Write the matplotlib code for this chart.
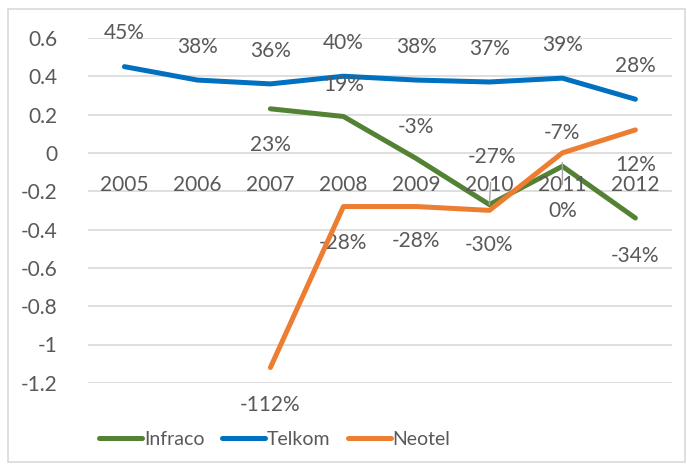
import matplotlib.pyplot as plt
from matplotlib.patches import Rectangle
import numpy as np

years = ['2005', '2006', '2007', '2008', '2009', '2010', '2011', '2012']
telkom = [0.45, 0.38, 0.36, 0.40, 0.38, 0.37, 0.39, 0.28]
infraco = [None, None, 0.23, 0.19, -0.03, -0.27, -0.07, -0.34]
neotel = [None, None, -1.12, -0.28, -0.28, -0.30, 0.00, 0.12]

# label offsets in points (dy), per series; None = no point
infraco_off = [None, None, -26, 23, 23, 34, 24, -27]
neotel_off = [None, None, -27, -26, -25, -25, -42, -25]
telkom_off = 24

COLORS = {'Infraco': '#548235', 'Telkom': '#0070C0', 'Neotel': '#ED7D31'}
TXT = '#595959'
FS = 15

plt.rcParams['font.family'] = ['Lato', 'DejaVu Sans']

fig = plt.figure(figsize=(6.87, 4.68), dpi=100)
ax = fig.add_axes([0.128, 0.182, 0.850, 0.737])


def series(vals):
    xs = [i for i, v in enumerate(vals) if v is not None]
    ys = [v for v in vals if v is not None]
    return np.array(xs), np.array(ys)


xi, yi = series(infraco)
xt, yt = series(telkom)
xn, yn = series(neotel)

ax.plot(xi, yi, color=COLORS['Infraco'], lw=3.6, label='Infraco', solid_capstyle='round', zorder=3)
ax.plot(xt, yt, color=COLORS['Telkom'], lw=3.6, label='Telkom', solid_capstyle='round', zorder=3)
ax.plot(xn, yn, color=COLORS['Neotel'], lw=3.6, label='Neotel', solid_capstyle='round', zorder=4)

ax.set_xlim(-0.5, 7.5)
ax.set_ylim(-1.2, 0.6)
ax.set_yticks(np.arange(-1.2, 0.61, 0.2))
ax.set_yticklabels(['-1.2', '-1', '-0.8', '-0.6', '-0.4', '-0.2', '0', '0.2', '0.4', '0.6'])
ax.tick_params(axis='y', length=0, pad=22, labelsize=FS, labelcolor=TXT)
ax.set_xticks([])
ax.grid(axis='y', color='#d9d9d9', lw=1.2)
ax.set_axisbelow(True)
for s in ax.spines.values():
    s.set_visible(False)

# category labels sit just under the zero line
for i, yr in enumerate(years):
    ax.annotate(yr, (i, 0), xytext=(0, -23), textcoords='offset points',
                ha='center', va='center', fontsize=FS, color=TXT)


def pct(v):
    return f'{round(v * 100):d}%'


for i, v in zip(xt, yt):
    ax.annotate(pct(v), (i, v), xytext=(0, telkom_off), textcoords='offset points',
                ha='center', va='center', fontsize=FS, color=TXT)

for i, v in zip(xi, yi):
    kw = {}
    if i == 5:
        kw['arrowprops'] = dict(arrowstyle='-', color='#a6a6a6', lw=1, shrinkA=9, shrinkB=0)
    ax.annotate(pct(v), (i, v), xytext=(2 if i == 5 else 0, infraco_off[i]), textcoords='offset points',
                ha='center', va='center', fontsize=FS, color=TXT, **kw)

for i, v in zip(xn, yn):
    kw = {}
    if i == 6:
        kw['arrowprops'] = dict(arrowstyle='-', color='#a6a6a6', lw=1, shrinkA=10, shrinkB=7)
    ax.annotate(pct(v), (i, v), xytext=(0, neotel_off[i]), textcoords='offset points',
                ha='center', va='center', fontsize=FS, color=TXT, **kw)

leg = fig.legend(loc='lower center', bbox_to_anchor=(0.40, 0.005), ncol=3, frameon=False,
                 fontsize=14, handlelength=2.2, handletextpad=0.1, columnspacing=0.9)
for t in leg.get_texts():
    t.set_color(TXT)

fig.patches.append(Rectangle((0.012, 0.012), 0.985, 0.968, transform=fig.transFigure,
                             fill=False, edgecolor='#d9d9d9', lw=1.2))

fig.savefig('out.png', dpi=100)
